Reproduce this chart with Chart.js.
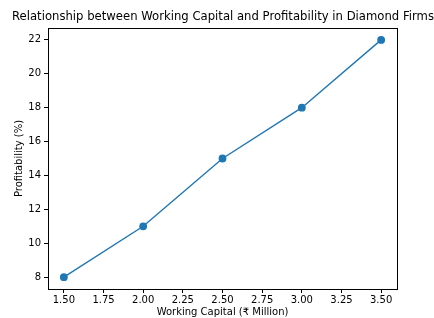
<!DOCTYPE html>
<html>
<head>
<meta charset="utf-8">
<script src="https://cdn.jsdelivr.net/npm/chart.js@4"></script>
<style>
  html, body { margin: 0; padding: 0; background: #fff; }
  #wrap { width: 434px; height: 318px; }
</style>
</head>
<body>
<div id="wrap"><canvas id="chart" width="434" height="318"></canvas></div>
<script>
const workingCapital = [1.5, 2.0, 2.5, 3.0, 3.5];
const profitability = [8, 11, 15, 18, 22];
const xTicks = [1.5, 1.75, 2.0, 2.25, 2.5, 2.75, 3.0, 3.25, 3.5];
const yTicks = [8, 10, 12, 14, 16, 18, 20, 22];

const FONT = 'DejaVu Sans';

// black frame round the plot area, like the matplotlib axes box
const frame = {
  id: 'frame',
  afterDraw(chart) {
    const a = chart.chartArea, ctx = chart.ctx;
    ctx.save();
    ctx.strokeStyle = '#000';
    ctx.lineWidth = 1;
    ctx.strokeRect(Math.round(a.left) + 0.5, Math.round(a.top) + 0.5,
      Math.round(a.right - a.left), Math.round(a.bottom - a.top));
    ctx.restore();
  }
};

const axisGrid = { display: true, drawOnChartArea: false, drawTicks: true, tickLength: 4, color: '#000' };

new Chart(document.getElementById('chart'), {
  type: 'line',
  data: {
    datasets: [{
      data: workingCapital.map((x, i) => ({ x: x, y: profitability[i] })),
      borderColor: '#1f77b4',
      backgroundColor: '#1f77b4',
      borderWidth: 1.4,
      pointRadius: 3.2,
      pointHoverRadius: 3.2,
      tension: 0
    }]
  },
  options: {
    responsive: false,
    animation: false,
    layout: { padding: { left: 12, right: 0, top: 0, bottom: 0 } },
    plugins: {
      legend: { display: false },
      tooltip: { enabled: false },
      title: {
        display: true,
        text: 'Relationship between Working Capital and Profitability in Diamond Firms',
        color: '#000',
        font: { family: FONT, size: 12.1, weight: 'normal' },
        padding: { top: 10, bottom: 3.5 }
      }
    },
    scales: {
      x: {
        type: 'linear',
        min: 1.4,
        max: 3.6,
        afterBuildTicks: s => { s.ticks = xTicks.map(v => ({ value: v })); },
        afterFit: s => { s.height = 29; },
        grid: axisGrid,
        border: { display: false },
        ticks: {
          color: '#000',
          padding: 1,
          maxRotation: 0,
          autoSkip: false,
          font: { family: FONT, size: 10 },
          callback: v => v.toFixed(2)
        },
        title: {
          display: true,
          text: 'Working Capital (₹ Million)',
          color: '#000',
          font: { family: FONT, size: 10 },
          padding: { top: 0, bottom: 0 }
        }
      },
      y: {
        min: 7.3,
        max: 22.7,
        afterBuildTicks: s => { s.ticks = yTicks.map(v => ({ value: v })); },
        afterFit: s => { s.width = 36; },
        grid: axisGrid,
        border: { display: false },
        ticks: {
          color: '#000',
          padding: 3,
          autoSkip: false,
          font: { family: FONT, size: 10 }
        },
        title: {
          display: true,
          text: 'Profitability (%)',
          color: '#000',
          font: { family: FONT, size: 10 },
          padding: { top: 1, bottom: 0 }
        }
      },
      // empty right-hand axis that only reserves the right margin
      yRight: {
        position: 'right',
        display: true,
        afterFit: s => { s.width = 37; },
        grid: { display: false },
        border: { display: false },
        ticks: { display: false }
      }
    }
  },
  plugins: [frame]
});
</script>
</body>
</html>
